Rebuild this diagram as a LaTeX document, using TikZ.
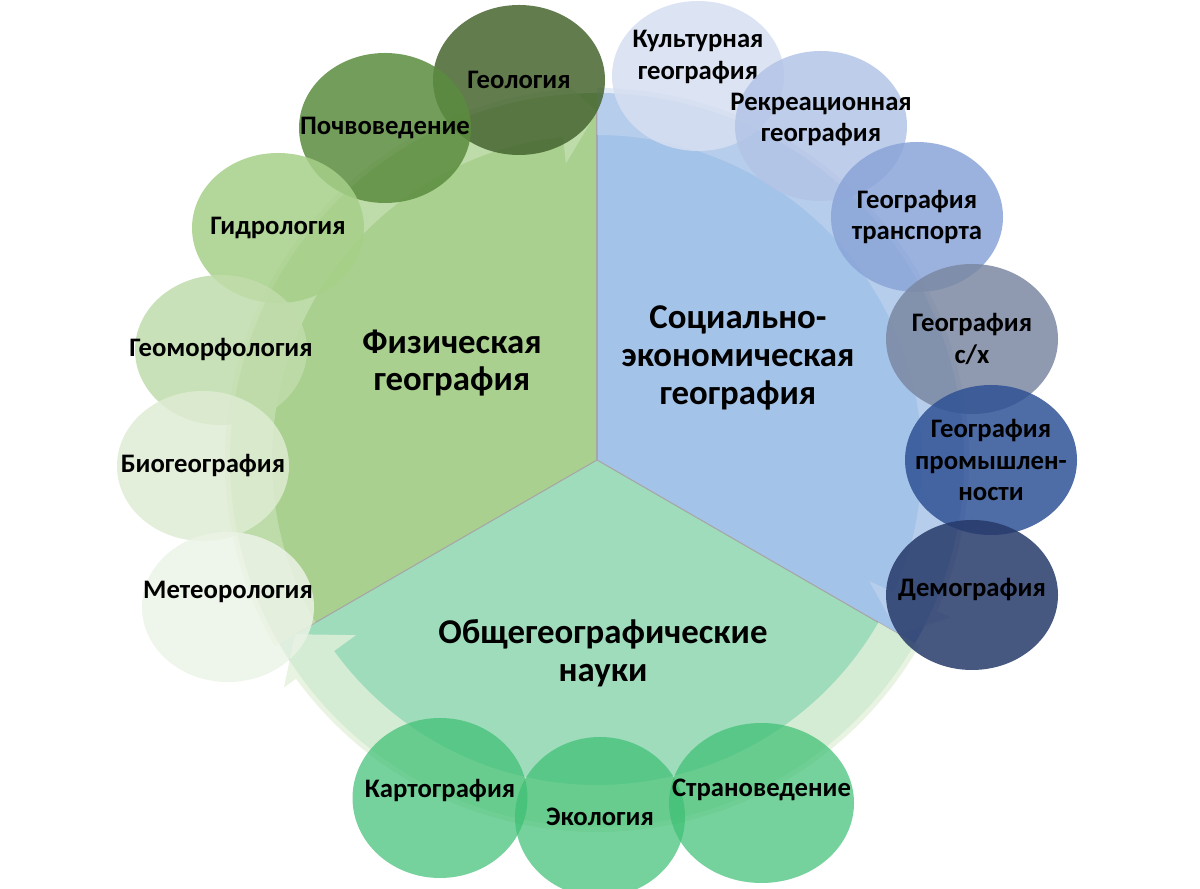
\documentclass[tikz,border=0pt]{standalone}
\usepackage{fontspec}
\setmainfont{Carlito}
\usetikzlibrary{shapes.geometric}

% Кольори секторів і кільця
\definecolor{sectorGreen}{HTML}{A9D08E}
\definecolor{sectorBlue}{HTML}{A4C3E8}
\definecolor{sectorTeal}{HTML}{9EDCBB}
\definecolor{ringGreen}{HTML}{D3E7C6}
\definecolor{ringBlue}{HTML}{C8D7EF}
\definecolor{ringTeal}{HTML}{E2F0DA}

% Кольори кіл
\definecolor{geolFill}{HTML}{46652F}
\definecolor{pochvFill}{HTML}{5B8C3E}
\definecolor{gidroFill}{HTML}{A6D088}
\definecolor{geomorfFill}{HTML}{C0DCAB}
\definecolor{biogeoFill}{HTML}{DEECD3}
\definecolor{meteoFill}{HTML}{EBF3E6}
\definecolor{kultFill}{HTML}{D6DFF1}
\definecolor{rekrFill}{HTML}{B3C4E6}
\definecolor{transpFill}{HTML}{8AA4D8}
\definecolor{selhozFill}{HTML}{7B88A2}
\definecolor{promFill}{HTML}{2F5295}
\definecolor{demoFill}{HTML}{26396A}
\definecolor{lowFill}{HTML}{3CBF73}

\tikzset{
  bubble/.style={ellipse, minimum width=3.44cm, minimum height=3cm, inner sep=-1cm,
    align=center, fill opacity=0.85, text opacity=1,
    font=\fontsize{15.2}{18}\selectfont\bfseries},
  bubblelow/.style={bubble, fill=lowFill, fill opacity=0.7, minimum height=3.2cm},
  title/.style={align=center, font=\fontsize{19.8}{21.5}\selectfont\bfseries}
}

\begin{document}
\begin{tikzpicture}[>=latex]

\useasboundingbox (0,0) rectangle (24,17.76);
\coordinate (c) at (11.94,8.56);

% Сектори
\fill[sectorGreen] (c) -- ++(90:7.34) arc[start angle=90, end angle=210, radius=7.34] -- cycle;
\fill[sectorBlue] (c) -- ++(-30:7.34) arc[start angle=-30, end angle=90, radius=7.34] -- cycle;
\fill[sectorTeal] (c) -- ++(210:7.34) arc[start angle=210, end angle=330, radius=7.34] -- cycle;

% Межі секторів
\foreach \a in {90,210,330} {
  \draw[gray!70, line width=0.6pt] (c) -- ++(\a:7.0);
}

% Кільце зі стрілками
\begin{scope}[shift={(c)}]
\foreach \a/\col/\op [evaluate=\a as \b using \a-114, evaluate=\a as \t using \a-120] in {210/ringGreen/0.5, 90/ringBlue/0.5, -30/ringTeal/0.8} {
  \fill[\col, fill opacity=\op] (\a:7.44) arc[start angle=\a, end angle=\b, radius=7.44]
    -- (\b:7.74) -- (\t:6.97) -- (\b:5.96) -- (\b:6.5)
    arc[start angle=\b, end angle=\a, radius=6.5] -- cycle;
}
\end{scope}

% Фізична географія
\node[bubble, fill=geolFill] (geol) at (10.38,16.16) {Геология};
\node[bubble, fill=pochvFill] (pochv) at (7.70,15.20) {Почвоведение};
\node[bubble, fill=gidroFill] (gidro) at (5.56,13.20) {Гидрология};
\node[bubble, fill=geomorfFill] (geomorf) at (4.42,10.76) {Геоморфология};
\node[bubble, fill=biogeoFill] (biogeo) at (4.06,8.44) {Биогеография};
\node[bubble, fill=meteoFill, text depth=0.7cm] (meteo) at (4.56,5.62) {Метеорология};

% Соціально-економічна географія
\node[bubble, fill=kultFill, text depth=0.85cm] (kult) at (13.96,16.24) {Культурная\\география};
\node[bubble, fill=rekrFill, text depth=0.35cm] (rekr) at (16.42,15.24) {Рекреационная\\география};
\node[bubble, fill=transpFill] (transp) at (18.34,13.42) {География\\транспорта};
\node[bubble, fill=selhozFill] (selhoz) at (19.44,10.98) {География\\с/х};
\node[bubble, fill=promFill] (prom) at (19.82,8.56) {География\\промышлен-\\ности};
\node[bubble, fill=demoFill, text depth=0.3cm] (demo) at (19.44,5.86) {Демография};

% Загальногеографічні науки
\node[bubblelow, minimum width=3.5cm, text depth=0.4cm] (karto) at (8.80,1.80) {Картография};
\node[bubblelow, minimum width=3.4cm] (eko) at (12.00,1.42) {Экология};
\node[bubblelow, minimum width=3.7cm, text depth=0.6cm] (strano) at (15.23,1.70) {Страноведение};

% Назви секторів
\node[title] (fiz) at (9.04,10.50) {Физическая\\география};
\node[title] (soc) at (14.76,10.60) {Социально-\\экономическая\\география};
\node[title] (obsh) at (12.06,4.70) {Общегеографические\\науки};

\end{tikzpicture}
\end{document}
